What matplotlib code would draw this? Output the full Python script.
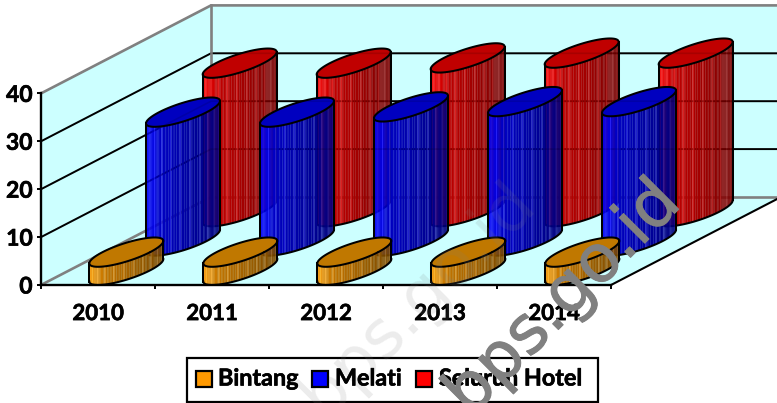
import numpy as np
import matplotlib
matplotlib.use("Agg")
import matplotlib.pyplot as plt
import matplotlib.patheffects as pe
from matplotlib.patches import Rectangle

plt.rcParams["font.family"] = ["Lato", "DejaVu Sans"]

years = ["2010", "2011", "2012", "2013", "2014"]
bintang = [3.8, 3.8, 3.8, 3.8, 3.8]
melati = [26.9, 26.9, 28.0, 29.1, 29.1]
seluruh = [31.0, 31.0, 32.1, 33.1, 33.1]

series_names = ["Bintang", "Melati", "Seluruh Hotel"]
series_vals = [bintang, melati, seluruh]
side_colors = [(1.0, 0.6, 0.0), (0.0, 0.0, 1.0), (1.0, 0.0, 0.0)]
top_colors = ["#C07800", "#0000C0", "#C00000"]
legend_colors = ["#FF9900", "#0000FF", "#FF0000"]

WALL = "#CCFFFF"
GRAY = "#808080"
EDGE = 1.45

# scale of the front plane, in pixels
W, H = 777, 403
X0, Y0 = 41, 285
PX_CAT = 114.0
PX_VAL = 4.79
# shift of the back plane, in data units
DX = 170 / PX_CAT
DY = 88 / PX_VAL
R_CAT = 23.8 / PX_CAT
R_DEPTH = 1 / 6

heavy = [pe.withStroke(linewidth=0.45, foreground="black")]


def proj(u, v, d):
    return u + d * DX, v + d * DY


def shade(col, f):
    # f goes 0 (left edge) to 1 (right edge)
    if f < 0.2:
        m = 1.0 - f * 1.2
    else:
        m = 0.76 - (f - 0.2) * 0.35
    return tuple(c * m for c in col)


def cylinder(ax, cat, val, row):
    cu = cat + 0.5
    cd = (row + 0.5) / 3
    t0 = np.arctan2(R_DEPTH * 170, R_CAT * PX_CAT)
    ts = np.linspace(t0 + np.pi, t0 + 2 * np.pi, 71)
    us = cu + R_CAT * np.cos(ts)
    ds = cd + R_DEPTH * np.sin(ts)
    xs, ys = proj(us, 0, ds)
    col = side_colors[row]

    xmin, xmax = xs.min(), xs.max()
    for i in range(len(ts) - 1):
        f = (xs[i] - xmin) / (xmax - xmin)
        c = shade(col, f)
        if i % 6 == 3:
            c = tuple(min(1, k + 0.13) for k in c)
        ax.fill([xs[i], xs[i + 1], xs[i + 1], xs[i]],
                [ys[i], ys[i + 1], ys[i + 1] + val, ys[i] + val],
                color=c, lw=0.15, zorder=2 + row * -0.1)

    z = 2.05 - row * 0.1
    a = np.linspace(0, 2 * np.pi, 80)
    ex, ey = proj(cu + R_CAT * np.cos(a), val, cd + R_DEPTH * np.sin(a))
    ax.fill(ex, ey, facecolor=top_colors[row], edgecolor="black", lw=EDGE, zorder=z)
    ax.plot(xs, ys, color="black", lw=EDGE, zorder=z)
    ax.plot([xs[0], xs[0]], [ys[0], ys[0] + val], color="black", lw=EDGE, zorder=z)
    ax.plot([xs[-1], xs[-1]], [ys[-1], ys[-1] + val], color="black", lw=EDGE, zorder=z)


fig = plt.figure(figsize=(W / 100, H / 100), dpi=100)
ax = fig.add_axes([0, 0, 1, 1])
ax.set_xlim(-X0 / PX_CAT, (W - X0) / PX_CAT)
ax.set_ylim((Y0 - H) / PX_VAL, Y0 / PX_VAL)
ax.patch.set_visible(False)

n = len(years)
top = 40

# walls and floor
corners = [proj(0, 0, 0), proj(0, top, 0), proj(0, top, 1), proj(0, 0, 1)]
ax.fill(*zip(*corners), color=WALL, lw=0, zorder=1)
corners = [proj(0, 0, 1), proj(0, top, 1), proj(n, top, 1), proj(n, 0, 1)]
ax.fill(*zip(*corners), color=WALL, lw=0, zorder=1)
corners = [proj(0, 0, 0), proj(n, 0, 0), proj(n, 0, 1), proj(0, 0, 1)]
ax.fill(*zip(*corners), color=WALL, lw=0, zorder=1)

# grid
for v in [10, 20, 30]:
    pts = [proj(0, v, 0), proj(0, v, 1), proj(n, v, 1)]
    ax.plot(*zip(*pts), color="black", lw=1.4, zorder=1.2)
    ax.plot(*zip(*pts), color="black", lw=1.2, alpha=0.12, zorder=2.2)

pts = [proj(0, top, 0), proj(0, top, 1), proj(n, top, 1)]
ax.plot(*zip(*pts), color=GRAY, lw=1.9, zorder=1.3)
pts = [proj(0, top, 1), proj(0, 0, 1), proj(n, 0, 1)]
ax.plot(*zip(*pts), color=GRAY, lw=1.9, zorder=1.3)
pts = [proj(0, 0, 0), proj(0, 0, 1)]
ax.plot(*zip(*pts), color=GRAY, lw=1.9, zorder=1.3)
pts = [proj(n, 0, 0), proj(n, 0, 1)]
ax.plot(*zip(*pts), color="black", lw=1.5, zorder=1.3)

for row in [2, 1, 0]:
    for cat in range(n):
        cylinder(ax, cat, series_vals[row][cat], row)

# axes
for s in ["top", "right"]:
    ax.spines[s].set_visible(False)
ax.spines["left"].set_position(("data", 0))
ax.spines["bottom"].set_position(("data", 0))
ax.spines["left"].set_bounds(0, top)
ax.spines["bottom"].set_bounds(0, n)
ax.spines["left"].set_linewidth(1.7)
ax.spines["bottom"].set_linewidth(1.7)
ax.set_yticks([0, 10, 20, 30, 40])
ax.set_xticks(range(n + 1))
ax.set_xticklabels([])
ax.set_xticks([i + 0.5 for i in range(n)], minor=True)
ax.set_xticklabels(years, minor=True, fontsize=16, fontweight="bold", path_effects=heavy)
ax.tick_params(axis="x", which="major", length=3, width=1.4)
ax.tick_params(axis="x", which="minor", length=0, pad=13)
ax.tick_params(axis="y", length=3, width=1.4, pad=3)
for lab in ax.get_yticklabels():
    lab.set_fontsize(16.5)
    lab.set_fontweight("bold")
    lab.set_path_effects(heavy)


def px(x, y):
    return x / W, 1 - y / H


# legend, placed in pixels
tf = fig.transFigure
x1, y1 = px(187, 402)
x2, y2 = px(598, 358)
ax.add_patch(Rectangle((x1, y1), x2 - x1, y2 - y1, transform=tf, facecolor="white",
                       edgecolor="black", lw=1.6, zorder=3, clip_on=False))
swatch_x = [196, 312, 416]
label_x = [218, 335, 439]
for name, c, sx, lx in zip(series_names, legend_colors, swatch_x, label_x):
    a, b = px(sx, 387)
    ax.add_patch(Rectangle((a, b), 16 / W, 16 / H, transform=tf, facecolor=c,
                           edgecolor="black", lw=1.6, zorder=3.1, clip_on=False))
    a, b = px(lx, 379)
    ax.text(a, b, name, transform=tf, fontsize=16.8, fontweight="bold",
            va="center", ha="left", zorder=3.2, path_effects=heavy)

# watermark, the faint copy sits under the legend text
a, b = px(537, 205)
ax.text(a, b, "bps.go.id", transform=tf, fontsize=47.5, family="DejaVu Sans",
        color=GRAY, alpha=0.15, rotation=45, rotation_mode="anchor",
        ha="right", va="baseline", zorder=3.05)
a, b = px(683, 205)
ax.text(a, b, "bps.go.id", transform=tf, fontsize=47.5, family="DejaVu Sans",
        color=GRAY, rotation=45, rotation_mode="anchor",
        ha="right", va="baseline", zorder=5,
        path_effects=[pe.withStroke(linewidth=0.7, foreground=GRAY)])

fig.savefig("out.png", dpi=100)
